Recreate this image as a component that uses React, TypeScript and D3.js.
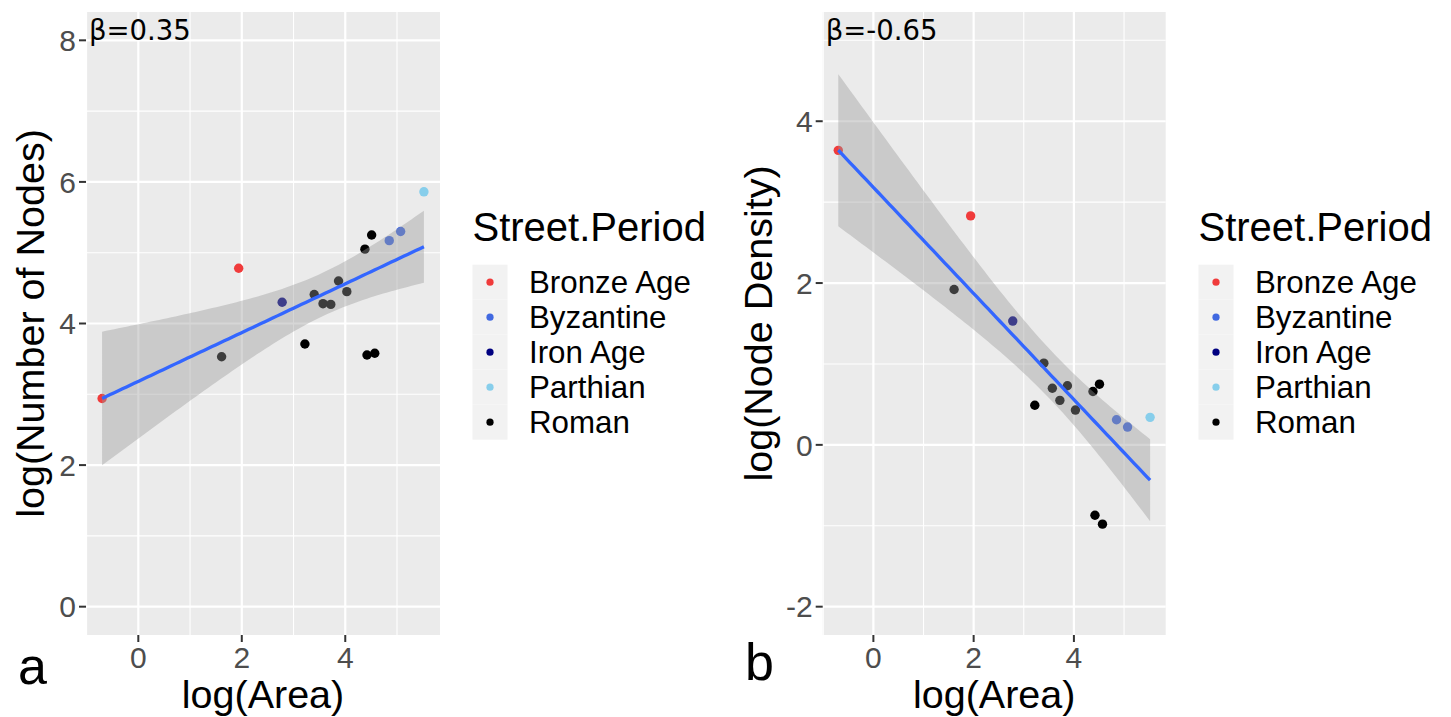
import React from 'react';
import * as d3 from 'd3';

// ---- data ----
const periods = ['Bronze Age', 'Byzantine', 'Iron Age', 'Parthian', 'Roman'];
const periodColors = ['#F03B3B', '#4169E1', '#000080', '#87CEEB', '#000000'];

const sitePeriod = [
  'Bronze Age', 'Bronze Age', 'Iron Age', 'Byzantine', 'Byzantine', 'Parthian',
  'Roman', 'Roman', 'Roman', 'Roman', 'Roman', 'Roman', 'Roman', 'Roman', 'Roman', 'Roman', 'Roman',
];
const logArea = [
  -0.70, 1.94, 2.78, 4.85, 5.07, 5.52,
  1.61, 3.22, 3.40, 3.57, 3.72, 3.87, 4.03, 4.38, 4.51, 4.42, 4.57,
];
const logNodes = [
  2.94, 4.78, 4.30, 5.17, 5.30, 5.86,
  3.53, 3.71, 4.41, 4.28, 4.27, 4.60, 4.45, 5.05, 5.25, 3.555, 3.58,
];
const logDensity = [
  3.64, 2.83, 1.53, 0.31, 0.22, 0.34,
  1.92, 0.49, 1.01, 0.70, 0.55, 0.73, 0.43, 0.66, 0.75, -0.87, -0.98,
];

const xTicks = [0, 2, 4];
const nodesTicks = [0, 2, 4, 6, 8];
const densityTicks = [-2, 0, 2, 4];
const nodesLimits: [number, number] = [0, 8];
const densityLimits: [number, number] = [-2, 5];

const FONT = '"Liberation Sans", Arial, sans-serif';
const T_975_DF15 = 2.13145; // Student t quantile for the 95% band (n - 2 = 15)

type PanelProps = {
  left: number; right: number; top: number; bottom: number;
  ys: number[]; yTicks: number[]; yLimits: [number, number];
  yTitle: string; yTitleX: number; beta: string; letter: string; letterX: number; letterY: number;
  legendX: number;
};

function Panel(p: PanelProps) {
  const xs = logArea;
  const [xmin, xmax] = d3.extent(xs) as [number, number];
  const xr = xmax - xmin;
  const x = d3.scaleLinear().domain([xmin - 0.05 * xr, xmax + 0.05 * xr]).range([p.left, p.right]);
  const yr = p.yLimits[1] - p.yLimits[0];
  const y = d3.scaleLinear()
    .domain([p.yLimits[0] - 0.05 * yr, p.yLimits[1] + 0.05 * yr])
    .range([p.bottom, p.top]);

  // linear fit + confidence band (as geom_smooth(method = "lm"))
  const n = xs.length;
  const mx = d3.mean(xs) as number;
  const my = d3.mean(p.ys) as number;
  const sxx = d3.sum(xs, (v) => (v - mx) ** 2);
  const sxy = d3.sum(xs, (v, i) => (v - mx) * (p.ys[i] - my));
  const slope = sxy / sxx;
  const icpt = my - slope * mx;
  const sse = d3.sum(xs, (v, i) => (p.ys[i] - (icpt + slope * v)) ** 2);
  const s = Math.sqrt(sse / (n - 2));
  const grid = d3.range(80).map((i) => xmin + (i / 79) * xr);
  const band = grid.map((gx) => {
    const fit = icpt + slope * gx;
    const se = s * Math.sqrt(1 / n + (gx - mx) ** 2 / sxx);
    return { gx, fit, lo: fit - T_975_DF15 * se, hi: fit + T_975_DF15 * se };
  });
  const area = d3.area<any>().x((d) => x(d.gx)).y0((d) => y(d.lo)).y1((d) => y(d.hi));
  const line = d3.line<any>().x((d) => x(d.gx)).y((d) => y(d.fit));

  const [xd0, xd1] = x.domain();
  const [yd0, yd1] = y.domain();
  const xMinor = [-1, 1, 3, 5].filter((v) => v >= xd0 && v <= xd1);
  const yStep = p.yTicks[1] - p.yTicks[0];
  const yMinor = [p.yTicks[0] - yStep / 2, ...p.yTicks.map((v) => v + yStep / 2)].filter((v) => v >= yd0 && v <= yd1);

  const color = d3.scaleOrdinal<string, string>().domain(periods).range(periodColors);
  const cx = (p.left + p.right) / 2;
  const cy = (p.top + p.bottom) / 2;

  const keyTop = 264.7;
  const keyH = 35;

  return (
    <g>
      <rect x={p.left} y={p.top} width={p.right - p.left} height={p.bottom - p.top} fill="#EBEBEB" />
      {xMinor.map((v) => (
        <line key={'xm' + v} x1={x(v)} x2={x(v)} y1={p.top} y2={p.bottom} stroke="#fff" strokeWidth={1.1} />
      ))}
      {yMinor.map((v) => (
        <line key={'ym' + v} x1={p.left} x2={p.right} y1={y(v)} y2={y(v)} stroke="#fff" strokeWidth={1.1} />
      ))}
      {xTicks.map((v) => (
        <line key={'xM' + v} x1={x(v)} x2={x(v)} y1={p.top} y2={p.bottom} stroke="#fff" strokeWidth={2.2} />
      ))}
      {p.yTicks.map((v) => (
        <line key={'yM' + v} x1={p.left} x2={p.right} y1={y(v)} y2={y(v)} stroke="#fff" strokeWidth={2.2} />
      ))}

      {xs.map((v, i) => (
        <circle key={'pt' + i} cx={x(v)} cy={y(p.ys[i])} r={4.7} fill={color(sitePeriod[i])} />
      ))}
      <path d={area(band) as string} fill="#999999" fillOpacity={0.4} />
      <path d={line(band) as string} fill="none" stroke="#3366FF" strokeWidth={3.3} />

      <text x={p.left + 3} y={39.5} fontFamily='"DejaVu Sans", sans-serif' fontSize={27.5} fill="#000">{p.beta}</text>

      {/* axes */}
      {p.yTicks.map((v) => (
        <g key={'yt' + v}>
          <line x1={p.left - 7} x2={p.left} y1={y(v)} y2={y(v)} stroke="#333" strokeWidth={2} />
          <text x={p.left - 10} y={y(v)} dy="0.36em" textAnchor="end" fontFamily={FONT} fontSize={30} fill="#4D4D4D">{v}</text>
        </g>
      ))}
      {xTicks.map((v) => (
        <g key={'xt' + v}>
          <line x1={x(v)} x2={x(v)} y1={p.bottom} y2={p.bottom + 7} stroke="#333" strokeWidth={2} />
          <text x={x(v)} y={668} textAnchor="middle" fontFamily={FONT} fontSize={30} fill="#4D4D4D">{v}</text>
        </g>
      ))}
      <text x={cx} y={708} textAnchor="middle" fontFamily={FONT} fontSize={39.5} fill="#000">log(Area)</text>
      <text transform={`translate(${p.yTitleX},${cy}) rotate(-90)`} textAnchor="middle" fontFamily={FONT} fontSize={39.5} fill="#000">{p.yTitle}</text>
      <text x={p.letterX} y={p.letterY} fontFamily={FONT} fontSize={52} fill="#000">{p.letter}</text>

      {/* legend */}
      <text x={p.legendX} y={240.5} fontFamily={FONT} fontSize={40} fill="#000">Street.Period</text>
      {periods.map((name, i) => (
        <g key={'lg' + name}>
          <rect x={p.legendX} y={keyTop + i * keyH} width={35} height={keyH} fill="#F2F2F2" />
          <circle cx={p.legendX + 17.5} cy={keyTop + i * keyH + keyH / 2} r={3.6} fill={periodColors[i]} />
          <text x={p.legendX + 56.5} y={keyTop + i * keyH + keyH / 2} dy="0.36em" fontFamily={FONT} fontSize={31.3} fill="#000">{name}</text>
        </g>
      ))}
    </g>
  );
}

export default function App() {
  return (
    <svg width={1451} height={717} style={{ position: 'absolute', left: 0, top: 0, background: '#fff' }}>
      <rect width={1451} height={717} fill="#fff" />
      <Panel left={86} right={440} top={12} bottom={635}
        ys={logNodes} yTicks={nodesTicks} yLimits={nodesLimits}
        yTitle="log(Number of Nodes)" yTitleX={43.5} beta="β=0.35" letter="a" letterX={18} letterY={684}
        legendX={472.5} />
      <Panel left={822.7} right={1165.7} top={12} bottom={635}
        ys={logDensity} yTicks={densityTicks} yLimits={densityLimits}
        yTitle="log(Node Density)" yTitleX={772} beta="β=-0.65" letter="b" letterX={745} letterY={680}
        legendX={1198.5} />
    </svg>
  );
}
